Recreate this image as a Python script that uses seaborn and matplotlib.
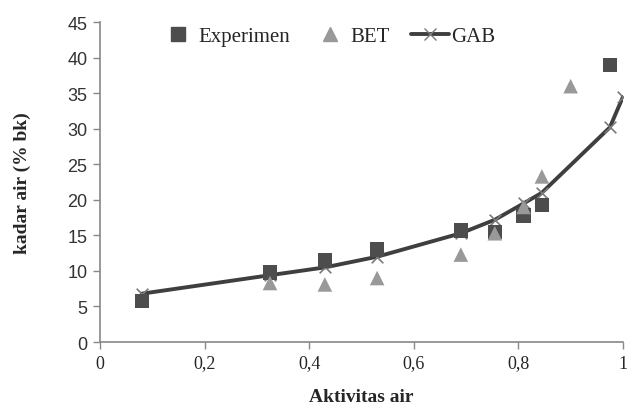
import matplotlib
matplotlib.use("Agg")
import matplotlib.pyplot as plt
import seaborn as sns
import pandas as pd
from matplotlib.lines import Line2D

aw_exp = [0.08, 0.325, 0.43, 0.53, 0.69, 0.755, 0.81, 0.845, 0.975]
ka_exp = [5.8, 9.8, 11.5, 13.0, 15.7, 15.5, 17.8, 19.3, 39.0]

aw_bet = [0.325, 0.43, 0.53, 0.69, 0.755, 0.81, 0.845, 0.90]
ka_bet = [8.3, 8.1, 9.0, 12.3, 15.3, 19.0, 23.3, 36.0]

aw_gab = [0.08, 0.325, 0.43, 0.53, 0.69, 0.755, 0.81, 0.845, 0.975, 1.0]
ka_gab = [6.8, 9.4, 10.5, 12.0, 15.3, 17.2, 19.5, 21.0, 30.2, 34.5]

x_ticks = [0, 0.2, 0.4, 0.6, 0.8, 1.0]
x_labels = ["0", "0,2", "0,4", "0,6", "0,8", "1"]
y_ticks = list(range(0, 50, 5))

sns.set_style("white")
plt.rcParams['font.family'] = ['Liberation Serif', 'DejaVu Serif']

fig = plt.figure(figsize=(6.27, 4.10), dpi=100)
ax = fig.add_axes([0.1595, 0.1634, 0.834, 0.780])

df_exp = pd.DataFrame({"aw": aw_exp, "ka": ka_exp})
df_bet = pd.DataFrame({"aw": aw_bet, "ka": ka_bet})
df_gab = pd.DataFrame({"aw": aw_gab, "ka": ka_gab})

c_exp = "#4d4d4d"
c_bet = "#999999"
c_gab = "#3f3f3f"

sns.lineplot(data=df_gab, x="aw", y="ka", sort=False, ax=ax, color=c_gab,
             linewidth=2.8, zorder=2)
sns.scatterplot(data=df_gab, x="aw", y="ka", ax=ax, marker="x", s=70,
                color="#7a7a7a", linewidth=1.2, zorder=3)
sns.scatterplot(data=df_exp, x="aw", y="ka", ax=ax, marker="s", s=110,
                color=c_exp, edgecolor="none", zorder=4)
sns.scatterplot(data=df_bet, x="aw", y="ka", ax=ax, marker="^", s=110,
                color=c_bet, edgecolor="none", zorder=5)

ax.set_xlim(0, 1)
ax.set_ylim(0, 45)
ax.set_xticks(x_ticks)
ax.set_xticklabels(x_labels, fontsize=13, family=['Liberation Serif'])
ax.set_yticks(y_ticks)
ax.set_yticklabels([str(v) for v in y_ticks], fontsize=13,
                   family=['Liberation Sans'], color="#333333")
ax.tick_params(axis='both', direction='out', length=5, width=1,
               color="#888888", bottom=True, left=True, pad=4)
for s in ["top", "right"]:
    ax.spines[s].set_visible(False)
for s in ["left", "bottom"]:
    ax.spines[s].set_color("#888888")
    ax.spines[s].set_linewidth(1.2)

ax.set_xlabel("Aktivitas air", fontsize=14, fontweight="bold", labelpad=12)
ax.set_ylabel("kadar air (% bk)", fontsize=14, fontweight="bold", labelpad=26)

handles = [
    Line2D([], [], marker="s", linestyle="none", color=c_exp, markersize=10),
    Line2D([], [], marker="^", linestyle="none", color=c_bet, markersize=10),
    Line2D([], [], marker="x", color=c_gab, linewidth=2.8, markersize=9,
           markeredgecolor="#7a7a7a"),
]
ax.legend(handles, ["Experimen", "BET", "GAB"], ncol=3, frameon=False,
          loc="center left", bbox_to_anchor=(0.113, 0.956), fontsize=15,
          borderaxespad=0, borderpad=0,
          handlelength=1.8, handletextpad=0.1, columnspacing=1.0)

fig.savefig("out.png", dpi=100)
